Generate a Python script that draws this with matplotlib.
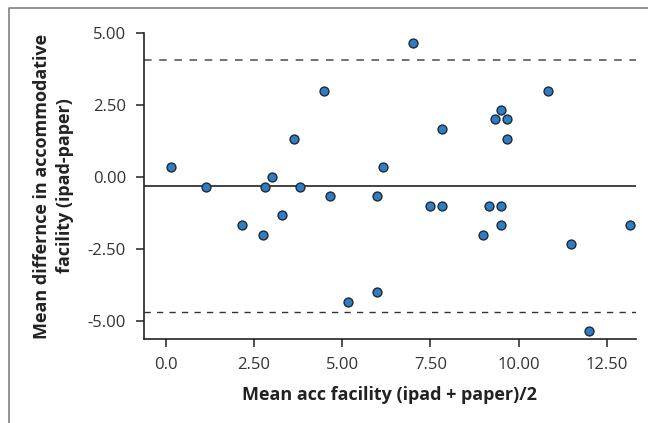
import matplotlib
matplotlib.use("Agg")
import matplotlib.pyplot as plt
from matplotlib.lines import Line2D

plt.rcParams['font.family'] = ['Open Sans', 'DejaVu Sans']

mean_facility = [0.14, 1.15, 2.81, 3.0, 3.82, 3.65, 2.17, 2.75, 3.31,
                 7.0, 4.5, 7.83, 6.17, 4.67, 6.0, 7.5, 7.83, 5.17, 6.0,
                 10.83, 9.5, 9.33, 9.67, 9.67, 9.17, 9.5, 9.5, 9.0, 11.5,
                 13.17, 12.0]
diff_facility = [0.33, -0.33, -0.33, 0.0, -0.33, 1.33, -1.67, -2.0, -1.33,
                 4.67, 3.0, 1.67, 0.33, -0.67, -0.67, -1.0, -1.0, -4.33, -4.0,
                 3.0, 2.33, 2.0, 2.0, 1.33, -1.0, -1.0, -1.67, -2.0, -2.33,
                 -1.67, -5.33]
mean_diff = -0.30
upper_loa = 4.07
lower_loa = -4.69

x_ticks = [0.0, 2.5, 5.0, 7.5, 10.0, 12.5]
x_ticklabels = ['0.0', '2.50', '5.00', '7.50', '10.00', '12.50']
y_ticks = [5.0, 2.5, 0.0, -2.5, -5.0]
y_ticklabels = ['5.00', '2.50', '0.00', '-2.50', '-5.00']

fig = plt.figure(figsize=(6.48, 4.23), dpi=100)
fx = 8.5 / 648
fy = 1 - 8.5 / 423
fig.lines.append(Line2D([fx, fx, 1.01], [-0.01, fy, fy], transform=fig.transFigure,
                        color='#8a8a8a', lw=1.3))
ax = fig.add_axes([144/648, 1 - 339/423, (636 - 144)/648, (339 - 33)/423])

xmin, xmax = -0.615, 13.33
ax.set_xlim(xmin, xmax)
ax.set_ylim(-5.625, 5.0)

ax.axhline(mean_diff, color='#222222', lw=1.2, zorder=1)
ax.axhline(upper_loa, color='#666666', lw=1.3, ls=(0, (4.2, 4.2)), zorder=1)
ax.axhline(lower_loa, color='#333333', lw=1.0, ls=(0, (4.5, 4.5)), zorder=1)

ax.plot(mean_facility, diff_facility, 'o', ms=6.4, mfc='#2f7ec4',
        mec='#1e2a36', mew=1.0, clip_on=False, zorder=3)

for s in ['top', 'right']:
    ax.spines[s].set_visible(False)
for s in ['left', 'bottom']:
    ax.spines[s].set_color('#222222')
    ax.spines[s].set_linewidth(1.2)

ax.set_xticks(x_ticks)
ax.set_xticklabels(x_ticklabels)
ax.set_yticks(y_ticks)
ax.set_yticklabels(y_ticklabels)
ax.tick_params(axis='both', length=6, width=1.1, color='#222222',
               labelsize=12, labelcolor='#333333', pad=7)

ax.set_xlabel('Mean acc facility (ipad + paper)/2', fontsize=13,
              fontweight='bold', color='#222222', labelpad=9)
ax.set_ylabel('Mean differnce in accommodative\nfacility (ipad-paper)',
              fontsize=13, fontweight='bold', color='#222222', labelpad=10,
              linespacing=1.3)

fig.savefig('out.png', dpi=100)
